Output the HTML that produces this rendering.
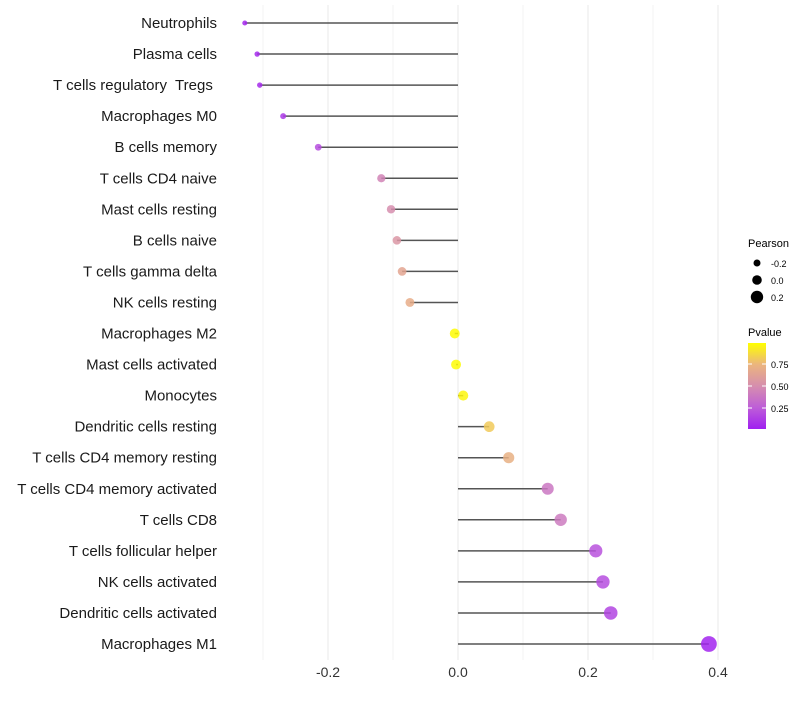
<!DOCTYPE html>
<html><head><meta charset="utf-8"><style>body{margin:0;background:#fff}svg text{font-family:"Liberation Sans",sans-serif;white-space:pre}</style></head>
<body>
<svg id="chart" width="800" height="700" xmlns="http://www.w3.org/2000/svg">
<defs><linearGradient id="pg" x1="0" y1="1" x2="0" y2="0">
<stop offset="0" stop-color="#A020F0"/><stop offset="0.25" stop-color="#BE5ED8"/><stop offset="0.5" stop-color="#D68EAE"/><stop offset="0.75" stop-color="#EBB57E"/><stop offset="1" stop-color="#FFFF00"/></linearGradient></defs>
<g id="grid"></g><g id="marks"></g><g id="labels"></g>
<g>
<text x="748" y="247" font-size="11">Pearson</text>
<circle cx="757" cy="263" r="3.5" fill="#000"/><text x="771" y="267" font-size="9">-0.2</text>
<circle cx="757" cy="280" r="4.8" fill="#000"/><text x="771" y="284" font-size="9">0.0</text>
<circle cx="757" cy="297" r="6.2" fill="#000"/><text x="771" y="301" font-size="9">0.2</text>
<text x="748" y="336" font-size="11">Pvalue</text>
<rect x="748" y="343" width="18" height="86" fill="url(#pg)"/>
<g stroke="#fff" stroke-width="1"><line x1="748" y1="364" x2="752" y2="364"/><line x1="762" y1="364" x2="766" y2="364"/><line x1="748" y1="386" x2="752" y2="386"/><line x1="762" y1="386" x2="766" y2="386"/><line x1="748" y1="408" x2="752" y2="408"/><line x1="762" y1="408" x2="766" y2="408"/></g>
<text x="771" y="368" font-size="9">0.75</text><text x="771" y="390" font-size="9">0.50</text><text x="771" y="412" font-size="9">0.25</text>
</g>
</svg>
<script>
const categories=["Neutrophils","Plasma cells","T cells regulatory  Tregs ","Macrophages M0","B cells memory","T cells CD4 naive","Mast cells resting","B cells naive","T cells gamma delta","NK cells resting","Macrophages M2","Mast cells activated","Monocytes","Dendritic cells resting","T cells CD4 memory resting","T cells CD4 memory activated","T cells CD8","T cells follicular helper","NK cells activated","Dendritic cells activated","Macrophages M1"];
const pearson=[-0.328,-0.309,-0.305,-0.269,-0.215,-0.118,-0.103,-0.094,-0.086,-0.074,-0.005,-0.003,0.008,0.048,0.078,0.138,0.158,0.212,0.223,0.235,0.386];
const pvalues=[0.03,0.04,0.05,0.1,0.18,0.45,0.5,0.55,0.65,0.7,0.99,0.99,0.97,0.82,0.72,0.38,0.4,0.2,0.18,0.15,0.02];
const xTicks=[-0.2,0.0,0.2,0.4];
const tickLabels=["-0.2","0.0","0.2","0.4"];
const ns="http://www.w3.org/2000/svg";
const x=v=>458+v*650;
const y=i=>23+i*31.05;
const r=v=>5+7.5*v;
function lerp(a,b,t){return a.map((c,k)=>Math.round(c+(b[k]-c)*t));}
const stops=[[0,[160,32,240]],[0.25,[190,94,216]],[0.5,[214,142,174]],[0.75,[235,181,126]],[1,[255,255,0]]];
function col(p){for(let k=1;k<stops.length;k++){if(p<=stops[k][0]){const t=(p-stops[k-1][0])/(stops[k][0]-stops[k-1][0]);const c=lerp(stops[k-1][1],stops[k][1],t);return `rgb(${c})`;}}return "rgb(255,255,0)";}
function mk(tag,at,parent){const e=document.createElementNS(ns,tag);for(const k in at)e.setAttribute(k,at[k]);document.getElementById(parent).appendChild(e);return e;}
for(let v=-0.3;v<=0.41;v+=0.1){const g=mk("line",{x1:x(v),x2:x(v),y1:5,y2:660,stroke:"#ebebeb","stroke-width":Math.abs(Math.round(v*10))%2==0?1.1:0.6},"grid");

}
xTicks.forEach((t,i)=>{const e=mk("text",{x:x(t),y:677,"font-size":14,"text-anchor":"middle",fill:"#333"},"labels");e.textContent=tickLabels[i];

});
categories.forEach((c,i)=>{
const l=mk("text",{x:217,y:y(i)+5,"font-size":15,"text-anchor":"end",fill:"#1a1a1a"},"labels");l.textContent=c;


const st=mk("line",{x1:x(0),x2:x(pearson[i]),y1:y(i),y2:y(i),stroke:"#555","stroke-width":1.5},"marks");


const d=mk("circle",{cx:x(pearson[i]),cy:y(i),r:r(pearson[i]),fill:col(pvalues[i]),"fill-opacity":0.85},"marks");


});
</script>
</body></html>
